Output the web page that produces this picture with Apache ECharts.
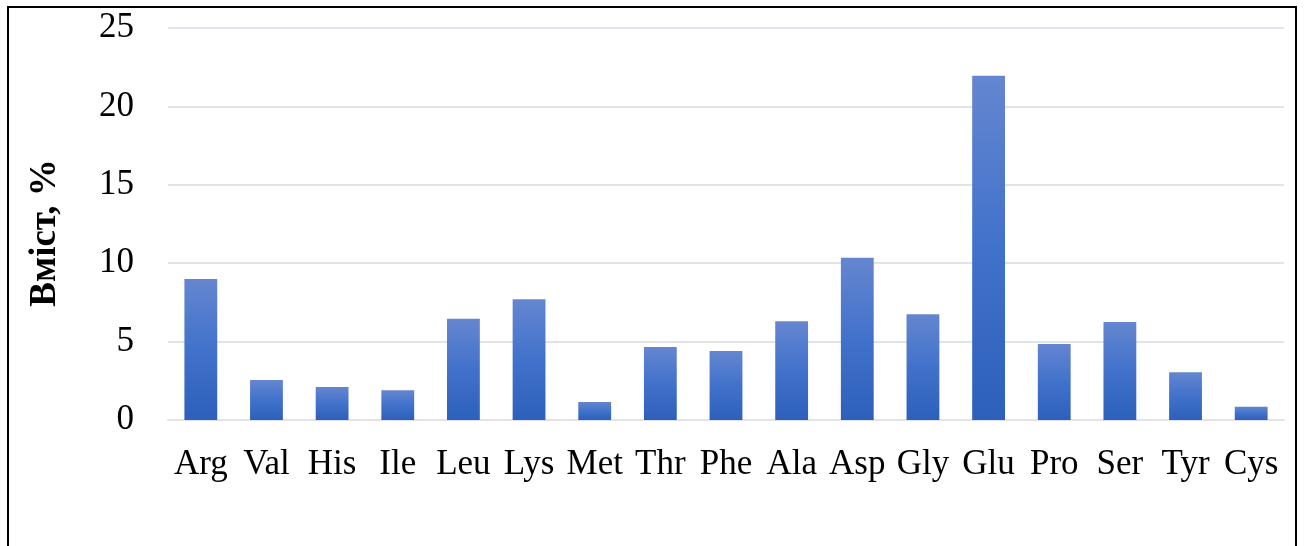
<!DOCTYPE html>
<html>
<head>
<meta charset="utf-8">
<script src="https://cdn.jsdelivr.net/npm/echarts@6/dist/echarts.min.js"></script>
<style>
  html, body { margin: 0; padding: 0; background: #ffffff; }
  #chart { width: 1304px; height: 546px; }
</style>
</head>
<body>
<div id="chart"></div>
<script>
// Amino acid content, %
const categories = ['Arg', 'Val', 'His', 'Ile', 'Leu', 'Lys', 'Met', 'Thr', 'Phe', 'Ala', 'Asp', 'Gly', 'Glu', 'Pro', 'Ser', 'Tyr', 'Cys'];
const contentValues = [9.0, 2.55, 2.1, 1.9, 6.45, 7.7, 1.15, 4.65, 4.4, 6.3, 10.35, 6.75, 21.95, 4.85, 6.25, 3.05, 0.85];
const yTicks = { min: 0, max: 25, interval: 5 };
const yAxisTitle = 'Вміст, %';

const FONT = '"Liberation Serif", "Times New Roman", serif';

const chart = echarts.init(document.getElementById('chart'), null, { renderer: 'canvas' });

chart.setOption({
  animation: false,
  backgroundColor: '#ffffff',
  graphic: [
    {
      type: 'rect',
      shape: { x: 8, y: 7, width: 1288, height: 600 },
      style: { fill: 'none', stroke: '#000000', lineWidth: 2 },
      silent: true
    },
    {
      type: 'text',
      x: 45,
      y: 233,
      rotation: Math.PI / 2,
      style: {
        text: yAxisTitle,
        font: 'bold 37px ' + FONT,
        fill: '#000000',
        align: 'center',
        verticalAlign: 'middle'
      }
    }
  ],
  grid: { left: 168, right: 20, top: 28, bottom: 126 },
  xAxis: {
    type: 'category',
    data: categories,
    axisLine: { show: true, lineStyle: { color: '#e0e4ea', width: 2 } },
    axisTick: { show: false },
    axisLabel: {
      color: '#000000',
      fontFamily: FONT,
      fontSize: 35,
      margin: 27,
      interval: 0
    }
  },
  yAxis: {
    type: 'value',
    min: yTicks.min,
    max: yTicks.max,
    interval: yTicks.interval,
    axisLine: { show: false },
    axisTick: { show: false },
    splitLine: { lineStyle: { color: '#e0e4ea', width: 2 } },
    axisLabel: {
      color: '#000000',
      fontFamily: FONT,
      fontSize: 35,
      margin: 34
    }
  },
  series: [
    {
      type: 'bar',
      data: contentValues,
      barCategoryGap: '50%',
      itemStyle: {
        color: new echarts.graphic.LinearGradient(0, 0, 0, 1, [
          { offset: 0, color: '#6586d0' },
          { offset: 0.5, color: '#4172cb' },
          { offset: 1, color: '#2d60bb' }
        ])
      }
    }
  ]
});
</script>
</body>
</html>
